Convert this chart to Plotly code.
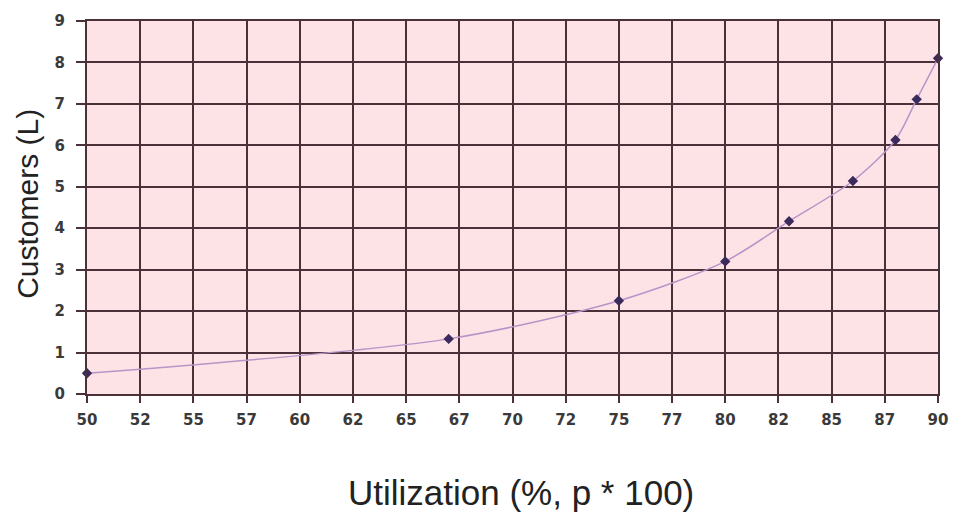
import plotly.graph_objects as go

utilization = [50, 67, 75, 80, 83, 86, 88, 89, 90]
customers = [0.5, 1.33, 2.25, 3.2, 4.17, 5.14, 6.13, 7.11, 8.1]

x_tick_vals = [50 + 2.5 * i for i in range(17)]
x_tick_text = ["50", "52", "55", "57", "60", "62", "65", "67", "70", "72",
               "75", "77", "80", "82", "85", "87", "90"]
y_tick_vals = list(range(10))

grid = "#4a3038"
tickfont = dict(family="DejaVu Sans", size=15, color="#3a3a3a", weight="bold")

fig = go.Figure()
fig.add_trace(go.Scatter(
    x=utilization, y=customers, mode="lines+markers",
    line=dict(color="#b894c8", width=1.5, shape="spline", smoothing=0.8),
    marker=dict(symbol="diamond", size=8, color="#3b2a5c"),
    cliponaxis=False, showlegend=False,
))

fig.update_layout(
    width=960, height=513,
    margin=dict(l=87, r=18, t=14, b=119),
    paper_bgcolor="white", plot_bgcolor="#fde3e6",
    xaxis=dict(range=[50, 90], tickvals=x_tick_vals, ticktext=x_tick_text,
               showgrid=True, gridcolor=grid, gridwidth=2,
               showline=True, linecolor=grid, linewidth=2, mirror=True,
               ticks="outside", ticklen=7, tickcolor=grid, tickwidth=2,
               ticklabelstandoff=4,
               zeroline=False, tickfont=tickfont),
    yaxis=dict(range=[0, 9], tickvals=y_tick_vals,
               showgrid=True, gridcolor=grid, gridwidth=2,
               showline=True, linecolor=grid, linewidth=2, mirror=True,
               ticks="outside", ticklen=9, tickcolor=grid, tickwidth=2,
               ticklabelstandoff=8,
               zeroline=False, tickfont=tickfont),
    annotations=[
        dict(text="Utilization (%, p * 100)", xref="paper", yref="paper",
             x=(523 - 87) / 855, y=-(494 - 394) / 380, yanchor="middle", xanchor="center",
             showarrow=False, font=dict(family="Liberation Sans", size=35, color="#222222")),
        dict(text="Customers (L)", xref="paper", yref="paper",
             x=(27 - 87) / 855, y=(394 - 200) / 380, xanchor="center", yanchor="middle",
             textangle=-90, showarrow=False,
             font=dict(family="Liberation Sans", size=30, color="#222222")),
    ],
)

fig.write_html("out.html", config={"displayModeBar": False},
               post_script="document.body.style.margin='0';")
